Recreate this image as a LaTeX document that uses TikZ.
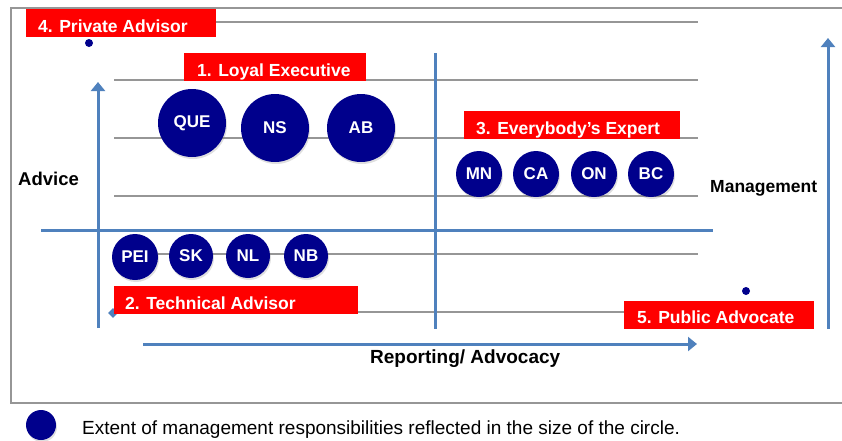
\documentclass[tikz,border=0pt]{standalone}
\usepackage{fontspec}
\setmainfont{Liberation Sans}
\usetikzlibrary{arrows.meta,shadows}
\definecolor{navy}{RGB}{0,0,140}
\definecolor{axisblue}{RGB}{79,129,189}
\definecolor{gridgray}{RGB}{150,150,150}
\definecolor{labelred}{RGB}{255,0,0}
\tikzset{
  gridline/.style={draw=gridgray, line width=1.1pt},
  axisline/.style={draw=axisblue, line width=3pt},
  axisarrow/.style={axisline, -{Triangle[width=14pt,length=9pt]}},
  redbox/.style={fill=labelred, draw=none},
  redtext/.style={text=white, font=\bfseries\fontsize{17.5}{17.5}\selectfont, anchor=base west, inner sep=0pt},
  bigcirc/.style={circle, fill=navy, minimum size=68pt, inner sep=0pt, text=white,
     font=\bfseries\fontsize{17}{17}\selectfont, drop shadow={shadow xshift=1pt, shadow yshift=-2pt, opacity=0.25}},
  smallcirc/.style={bigcirc, minimum size=46pt},
  dotmark/.style={circle, fill=navy, minimum size=8pt, inner sep=0pt},
  axislabel/.style={font=\bfseries\fontsize{18.5}{18.5}\selectfont, anchor=base west, inner sep=0pt},
}
\begin{document}
\begin{tikzpicture}[x=1pt,y=-1pt]
\useasboundingbox (0,0) rectangle (842,440);
% frame
\draw[gridgray, line width=1.2pt] (845,8) -- (11,8) -- (11,403) -- (845,403);
% grid lines
\draw[gridline] (215,22) -- (698,22);
\foreach \yy in {80,138,196,254,312} {\draw[gridline] (114,\yy) -- (698,\yy);}
% axes
\coordinate (hl) at (41,230); \coordinate (hr) at (713,230);
\draw[axisline] (hl) -- (hr);
\coordinate (vt) at (435,53); \coordinate (vb) at (435,329);
\draw[axisline] (vt) -- (vb);
\coordinate (lab) at (98,328); \coordinate (lat) at (98,82);
\draw[axisarrow] (lab) -- (lat);
\coordinate (bal) at (143,344); \coordinate (bar) at (697,344);
\draw[axisarrow] (bal) -- (bar);
\coordinate (rab) at (828,329); \coordinate (rat) at (828,38);
\draw[axisarrow] (rab) -- (rat);
\node[fill=axisblue, minimum size=7pt, inner sep=0pt, rotate=45] (diam) at (113,313) {};
% red labels
\fill[redbox] (26,9) rectangle (216,37);
\node[redtext] (l4) at (38,32) {4. Private Advisor};
\fill[redbox] (184,53) rectangle (366,81);
\node[redtext] (l1) at (197,76) {1. Loyal Executive};
\fill[redbox] (464,111) rectangle (680,139);
\node[redtext] (l3) at (476,134) {3. Everybody{\char"0027}s Expert};
\fill[redbox] (114,286) rectangle (358,314);
\node[redtext] (l2) at (125,309) {2. Technical Advisor};
\fill[redbox] (624,301) rectangle (814,329);
\node[redtext] (l5) at (637,323) {5. Public Advocate};
% dots
\node[dotmark] (d4) at (89,43) {};
\node[dotmark] (d5) at (746,291) {};
% circles
\node[bigcirc] (que) at (192,123) {QUE};
\node[bigcirc] (ns) at (275,128) {NS};
\node[bigcirc] (ab) at (361,128) {AB};
\node[smallcirc] (mn) at (479,174) {MN};
\node[smallcirc] (ca) at (536,174) {CA};
\node[smallcirc] (on) at (594,174) {ON};
\node[smallcirc] (bc) at (651,174) {BC};
\node[smallcirc] (pei) at (135,257) {PEI};
\node[smallcirc, minimum size=44pt] (sk) at (191,256) {SK};
\node[smallcirc, minimum size=44pt] (nl) at (248,256) {NL};
\node[smallcirc, minimum size=44pt] (nb) at (306,256) {NB};
% axis labels
\node[axislabel] (adv) at (18,185) {Advice};
\node[axislabel, font=\bfseries\fontsize{17.5}{17.5}\selectfont] (mgmt) at (710,192) {Management};
\node[axislabel, font=\bfseries\fontsize{19}{19}\selectfont] (rep) at (370,363) {Reporting/ Advocacy};
% legend
\node[circle, fill=navy, minimum size=30pt, inner sep=0pt, drop shadow={shadow xshift=1pt, shadow yshift=-2pt, opacity=0.25}] (leg) at (41,425) {};
\node[anchor=base west, inner sep=0pt, font=\fontsize{19}{19}\selectfont] (legtxt) at (82,434) {Extent of management responsibilities reflected in the size of the circle.};
\end{tikzpicture}
\end{document}
